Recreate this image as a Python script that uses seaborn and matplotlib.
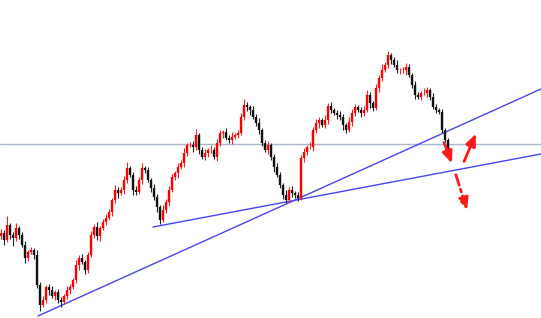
import numpy as np
import pandas as pd
import matplotlib
matplotlib.use("Agg")
import matplotlib.pyplot as plt
import seaborn as sns

# closing prices (chart units), one per bar
closes = [85, 78, 93, 83, 80, 90, 83, 73, 60, 66, 68, 63, 33, 13, 18, 31, 28, 22, 26, 18,
          16, 22, 28, 31, 38, 53, 60, 56, 48, 63, 83, 91, 82, 90, 96, 100, 106, 118, 128, 125,
          128, 138, 150, 143, 128, 126, 138, 150, 148, 138, 130, 121, 111, 98, 108, 116, 128, 141, 145, 151,
          155, 165, 173, 173, 171, 183, 168, 161, 165, 168, 168, 161, 175, 185, 186, 180, 178, 181, 183, 185,
          201, 213, 211, 208, 201, 195, 188, 175, 168, 173, 161, 151, 143, 133, 123, 118, 128, 125, 123, 120,
          160, 166, 171, 171, 188, 195, 198, 193, 198, 212, 208, 205, 203, 201, 193, 188, 196, 205, 211, 208,
          205, 208, 223, 215, 210, 230, 240, 248, 253, 263, 258, 253, 248, 248, 248, 251, 243, 233, 223, 221,
          225, 225, 228, 221, 211, 208, 206, 188, 178, 168]
first_open = 82

# wick lengths above the body top / below the body bottom (chart units)
upper_wick = [4, 3, 9, 2, 3, 5, 2, 3, 4, 2,
              3, 2, 5, 3, 4, 2, 3, 4, 2, 3,
              3, 2, 4, 3, 2, 5, 3, 4, 2, 3,
              4, 3, 5, 2, 3, 4, 3, 2, 5, 3,
              3, 4, 6, 2, 3, 4, 3, 5, 2, 3,
              2, 4, 3, 2, 5, 3, 4, 3, 2, 4,
              3, 5, 2, 3, 4, 6, 2, 3, 4, 2,
              5, 3, 4, 3, 2, 4, 3, 5, 2, 3,
              4, 6, 3, 2, 4, 3, 5, 2, 3, 4,
              2, 3, 4, 3, 2, 5, 3, 4, 2, 3,
              3, 4, 2, 5, 3, 4, 3, 2, 5, 3,
              4, 2, 3, 4, 3, 2, 5, 4, 3, 2,
              3, 4, 5, 3, 2, 4, 3, 6, 3, 4,
              2, 3, 5, 2, 3, 4, 3, 2, 4, 3,
              2, 5, 3, 2, 4, 3, 2, 3, 2, 2]
lower_wick = [3, 5, 2, 4, 8, 3, 4, 2, 5, 3,
              2, 4, 3, 6, 2, 3, 5, 2, 4, 3,
              5, 2, 3, 4, 2, 3, 5, 2, 4, 3,
              2, 3, 4, 5, 2, 3, 2, 4, 3, 5,
              2, 4, 3, 2, 5, 3, 2, 4, 3, 2,
              4, 3, 5, 4, 2, 3, 4, 2, 3, 5,
              2, 4, 3, 2, 5, 3, 4, 2, 3, 4,
              3, 2, 4, 3, 5, 2, 3, 4, 2, 3,
              2, 3, 4, 5, 2, 3, 4, 3, 2, 4,
              3, 5, 2, 3, 4, 3, 2, 4, 3, 3,
              2, 4, 3, 2, 4, 3, 5, 2, 3, 4,
              3, 2, 4, 3, 5, 3, 2, 4, 3, 2,
              4, 3, 2, 5, 3, 2, 4, 3, 2, 3,
              4, 2, 3, 4, 3, 5, 2, 3, 4, 2,
              3, 2, 4, 3, 2, 3, 2, 3, 2, 3]

# support / resistance annotations (chart units)
level = 174
trend1_x = [38, 541]
trend1_y = [2, 229]
trend2_x = [153, 541]
trend2_y = [91, 164]
arrows = [((443, 178), (453, 152), "-"),
          ((463, 154), (477, 187), "-"),
          ((455, 146), (468, 105), (0, (4, 1.5, 1, 1.5)))]

sns.set_theme(style="white")
fig = plt.figure(figsize=(5.41, 3.18), dpi=100)
ax = fig.add_axes([0, 0, 1, 1])

step = 3.0
opens = [first_open] + closes[:-1]
df = pd.DataFrame({"x": np.arange(len(closes)) * step + 1, "open": opens, "close": closes,
                   "uw": upper_wick, "lw": lower_wick})
df["top"] = df[["open", "close"]].max(axis=1)
df["bot"] = df[["open", "close"]].min(axis=1)
df["high"] = df.top + df.uw
df["low"] = df.bot - df.lw
up = df[df.close >= df.open]
dn = df[df.close < df.open]
ax.vlines(up.x, up.low, up.high, color="#ff2020", lw=0.8, zorder=3)
ax.vlines(dn.x, dn.low, dn.high, color="#222222", lw=0.8, zorder=3)
ax.vlines(up.x, up.open, up.close, color="#ff0000", lw=1.7, zorder=3)
ax.vlines(dn.x, dn.open, dn.close, color="#111111", lw=1.7, zorder=3)

ax.axhline(level, color="#a9b7cc", lw=1.0, zorder=1)

tl = pd.DataFrame({"x": trend1_x + trend2_x, "y": trend1_y + trend2_y,
                   "line": ["a", "a", "b", "b"]})
sns.lineplot(data=tl, x="x", y="y", units="line", estimator=None, color="#4646f2",
             lw=1.0, ax=ax, zorder=2, legend=False)

for (x0, y0), (x1, y1), ls in arrows:
    ax.annotate("", xy=(x1, y1), xytext=(x0, y0),
                arrowprops=dict(arrowstyle="-|>,head_length=0.6,head_width=0.25",
                                color="#ff1a1a", lw=2.0, ls=ls), zorder=4)

ax.set_xlim(0, 541)
ax.set_ylim(0, 318)
ax.axis("off")
fig.savefig("out.png", dpi=100)
